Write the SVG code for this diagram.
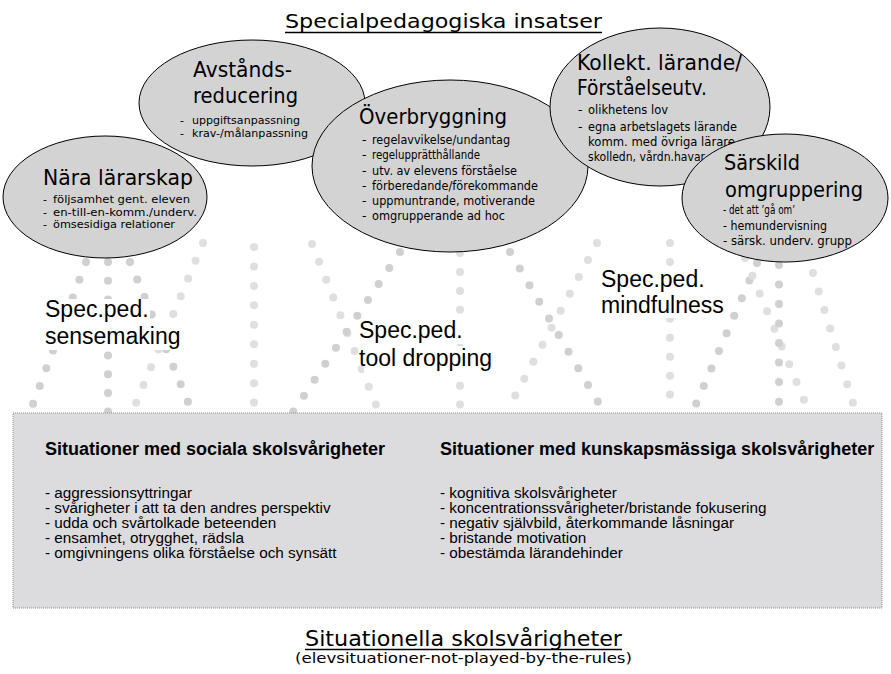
<svg xmlns="http://www.w3.org/2000/svg" width="891" height="674" viewBox="0 0 891 674">
<defs>
<style>
.dot{fill:none;stroke-linecap:round;stroke-width:8}
.dk{stroke:#d0d0d2}
.lt{stroke:#dfdfe1}
.ell{fill:#d3d3d3;stroke:#000;stroke-width:1}
.h{font-family:"DejaVu Sans","Liberation Sans",sans-serif;font-size:21px;fill:#000}
.it{font-family:"DejaVu Sans","Liberation Sans",sans-serif;font-size:11px;fill:#000}
.it2{font-family:"DejaVu Sans","Liberation Sans",sans-serif;font-size:12.5px;fill:#000}
.lbl{font-family:"Liberation Sans",Arial,sans-serif;font-size:23px;fill:#000}
.bh{font-family:"Liberation Sans",Arial,sans-serif;font-size:18px;font-weight:bold;fill:#000}
.bi{font-family:"Liberation Sans",Arial,sans-serif;font-size:14px;fill:#000}
.wb{fill:#fff}
.ul{stroke:#000;stroke-width:1.3}
</style>
</defs>
<rect width="891" height="674" fill="#fff"/>

<g id="connectors">
<line class="dot dk" x1="86" y1="262" x2="33" y2="404" stroke-dasharray="0 18.9"/>
<line class="dot dk" x1="108" y1="262" x2="108" y2="412" stroke-dasharray="0 18.7"/>
<line class="dot dk" x1="130" y1="262" x2="188" y2="402" stroke-dasharray="0 18.9"/>
<line class="dot lt" x1="203" y1="243" x2="136" y2="403" stroke-dasharray="0 19.23"/>
<line class="dot lt" x1="254" y1="247" x2="254" y2="403" stroke-dasharray="0 19.45"/>
<line class="dot lt" x1="312" y1="244" x2="376" y2="405" stroke-dasharray="0 19.2"/>
<line class="dot dk" x1="400" y1="252" x2="293" y2="412" stroke-dasharray="0 19.2"/>
<line class="dot lt" x1="460" y1="253" x2="460" y2="405" stroke-dasharray="0 18.95"/>
<line class="dot dk" x1="510" y1="252" x2="598" y2="402" stroke-dasharray="0 19.27"/>
<line class="dot lt" x1="597" y1="243" x2="515" y2="396" stroke-dasharray="0 19.24"/>
<line class="dot lt" x1="670" y1="243" x2="670" y2="395" stroke-dasharray="0 18.95"/>
<line class="dot dk" x1="757" y1="263" x2="696" y2="404" stroke-dasharray="0 19.15"/>
<line class="dot lt" x1="745" y1="258" x2="804" y2="400" stroke-dasharray="0 19.18"/>
<line class="dot dk" x1="779" y1="265" x2="779" y2="402" stroke-dasharray="0 19.52"/>
<line class="dot lt" x1="813" y1="273" x2="853" y2="403" stroke-dasharray="0 19.38"/>
</g>

<g id="title">
<text class="h" x="285" y="28" textLength="317" lengthAdjust="spacingAndGlyphs" style="font-size:20px">Specialpedagogiska insatser</text>
<line class="ul" x1="285" y1="32.5" x2="602" y2="32.5"/>
</g>

<g id="avstandsreducering">
<ellipse class="ell" cx="252" cy="103" rx="113" ry="63"/>
<text class="h" x="193" y="77" textLength="99" lengthAdjust="spacingAndGlyphs">Avstånds-</text>
<text class="h" x="193" y="103" textLength="105" lengthAdjust="spacingAndGlyphs">reducering</text>
<text class="it" x="180" y="124">-</text>
<text class="it" x="192" y="124" textLength="108" lengthAdjust="spacingAndGlyphs">uppgiftsanpassning</text>
<text class="it" x="180" y="137">-</text>
<text class="it" x="192" y="137" textLength="116" lengthAdjust="spacingAndGlyphs">krav-/målanpassning</text>
</g>

<g id="overbryggning">
<ellipse class="ell" cx="450" cy="166" rx="138" ry="86"/>
<text class="h" x="359" y="124" textLength="148" lengthAdjust="spacingAndGlyphs">Överbryggning</text>
<text class="it2" x="362" y="144">-</text>
<text class="it2" x="372" y="144" textLength="138" lengthAdjust="spacingAndGlyphs">regelavvikelse/undantag</text>
<text class="it2" x="362" y="159">-</text>
<text class="it2" x="372" y="159" textLength="108" lengthAdjust="spacingAndGlyphs">regelupprätthållande</text>
<text class="it2" x="362" y="175">-</text>
<text class="it2" x="372" y="175" textLength="145" lengthAdjust="spacingAndGlyphs">utv. av elevens förståelse</text>
<text class="it2" x="362" y="190">-</text>
<text class="it2" x="372" y="190" textLength="166" lengthAdjust="spacingAndGlyphs">förberedande/förekommande</text>
<text class="it2" x="362" y="205">-</text>
<text class="it2" x="372" y="205" textLength="163" lengthAdjust="spacingAndGlyphs">uppmuntrande, motiverande</text>
<text class="it2" x="362" y="220">-</text>
<text class="it2" x="372" y="220" textLength="133" lengthAdjust="spacingAndGlyphs">omgrupperande ad hoc</text>
</g>

<g id="kollekt-larande">
<ellipse class="ell" cx="660" cy="107" rx="110" ry="79"/>
<text class="h" x="577" y="70" textLength="165" lengthAdjust="spacingAndGlyphs">Kollekt. lärande/</text>
<text class="h" x="577" y="95" textLength="130" lengthAdjust="spacingAndGlyphs">Förståelseutv.</text>
<text class="it2" x="578" y="114">-</text>
<text class="it2" x="588" y="114" textLength="80" lengthAdjust="spacingAndGlyphs">olikhetens lov</text>
<text class="it2" x="578" y="131">-</text>
<text class="it2" x="588" y="131" textLength="149" lengthAdjust="spacingAndGlyphs">egna arbetslagets lärande</text>
<text class="it2" x="588" y="146" textLength="147" lengthAdjust="spacingAndGlyphs">komm. med övriga lärare</text>
<text class="it2" x="588" y="161" textLength="117" lengthAdjust="spacingAndGlyphs">skolledn, vårdn.havar</text>
</g>

<g id="nara-lararskap">
<ellipse class="ell" cx="105" cy="197" rx="102" ry="61"/>
<text class="h" x="43" y="185" textLength="150" lengthAdjust="spacingAndGlyphs">Nära lärarskap</text>
<text class="it" x="43" y="203">-</text>
<text class="it" x="53" y="203" textLength="137" lengthAdjust="spacingAndGlyphs">följsamhet gent. eleven</text>
<text class="it" x="43" y="215.5">-</text>
<text class="it" x="53" y="215.5" textLength="144" lengthAdjust="spacingAndGlyphs">en-till-en-komm./underv.</text>
<text class="it" x="43" y="228">-</text>
<text class="it" x="53" y="228" textLength="122" lengthAdjust="spacingAndGlyphs">ömsesidiga relationer</text>
</g>

<g id="sarskild-omgruppering">
<ellipse class="ell" cx="785" cy="198" rx="103" ry="64"/>
<text class="h" x="724" y="170" textLength="76" lengthAdjust="spacingAndGlyphs">Särskild</text>
<text class="h" x="725" y="197" textLength="138" lengthAdjust="spacingAndGlyphs">omgruppering</text>
<text class="it2" x="723" y="214" textLength="72" lengthAdjust="spacingAndGlyphs">- det att ’gå om’</text>
<text class="it2" x="723" y="230" textLength="104" lengthAdjust="spacingAndGlyphs">- hemundervisning</text>
<text class="it2" x="723" y="245" textLength="129" lengthAdjust="spacingAndGlyphs">- särsk. underv. grupp</text>
</g>

<g id="labels">
<rect class="wb" x="44" y="299" width="106" height="24"/>
<rect class="wb" x="44" y="325" width="138" height="25"/>
<text class="lbl" x="45" y="317">Spec.ped.</text>
<text class="lbl" x="45" y="344">sensemaking</text>
<rect class="wb" x="358" y="320" width="106" height="24"/>
<rect class="wb" x="364" y="346" width="130" height="26"/>
<text class="lbl" x="359" y="338">Spec.ped.</text>
<text class="lbl" x="359" y="366">tool dropping</text>
<rect class="wb" x="600" y="269" width="106" height="24"/>
<rect class="wb" x="600" y="295" width="126" height="23"/>
<text class="lbl" x="601" y="287">Spec.ped.</text>
<text class="lbl" x="601" y="313">mindfulness</text>
</g>

<g id="situationer-box">
<rect x="13" y="413" width="869" height="195" fill="#dcdcde" stroke="#8c8c8c" stroke-width="1" stroke-dasharray="1 1"/>
<text class="bh" x="45" y="455">Situationer med sociala skolsvårigheter</text>
<g transform="matrix(1.093 0 0 1 -4.19 0)">
<text class="bi" x="45" y="498">- aggressionsyttringar</text>
<text class="bi" x="45" y="513">- svårigheter i att ta den andres perspektiv</text>
<text class="bi" x="45" y="528">- udda och svårtolkade beteenden</text>
<text class="bi" x="45" y="543">- ensamhet, otrygghet, rädsla</text>
<text class="bi" x="45" y="558">- omgivningens olika förståelse och synsätt</text>
</g>
<text class="bh" x="440" y="455">Situationer med kunskapsmässiga skolsvårigheter</text>
<g transform="matrix(1.093 0 0 1 -40.92 0)">
<text class="bi" x="440" y="498">- kognitiva skolsvårigheter</text>
<text class="bi" x="440" y="513">- koncentrationssvårigheter/bristande fokusering</text>
<text class="bi" x="440" y="528">- negativ självbild, återkommande låsningar</text>
<text class="bi" x="440" y="543">- bristande motivation</text>
<text class="bi" x="440" y="558">- obestämda lärandehinder</text>
</g>
</g>

<g id="bottom-title">
<text class="h" x="305" y="646" textLength="317" lengthAdjust="spacingAndGlyphs">Situationella skolsvårigheter</text>
<line class="ul" x1="305" y1="649.5" x2="622" y2="649.5"/>
<text class="h" x="295" y="663" textLength="337" lengthAdjust="spacingAndGlyphs" style="font-size:14.5px">(elevsituationer-not-played-by-the-rules)</text>
</g>
</svg>
